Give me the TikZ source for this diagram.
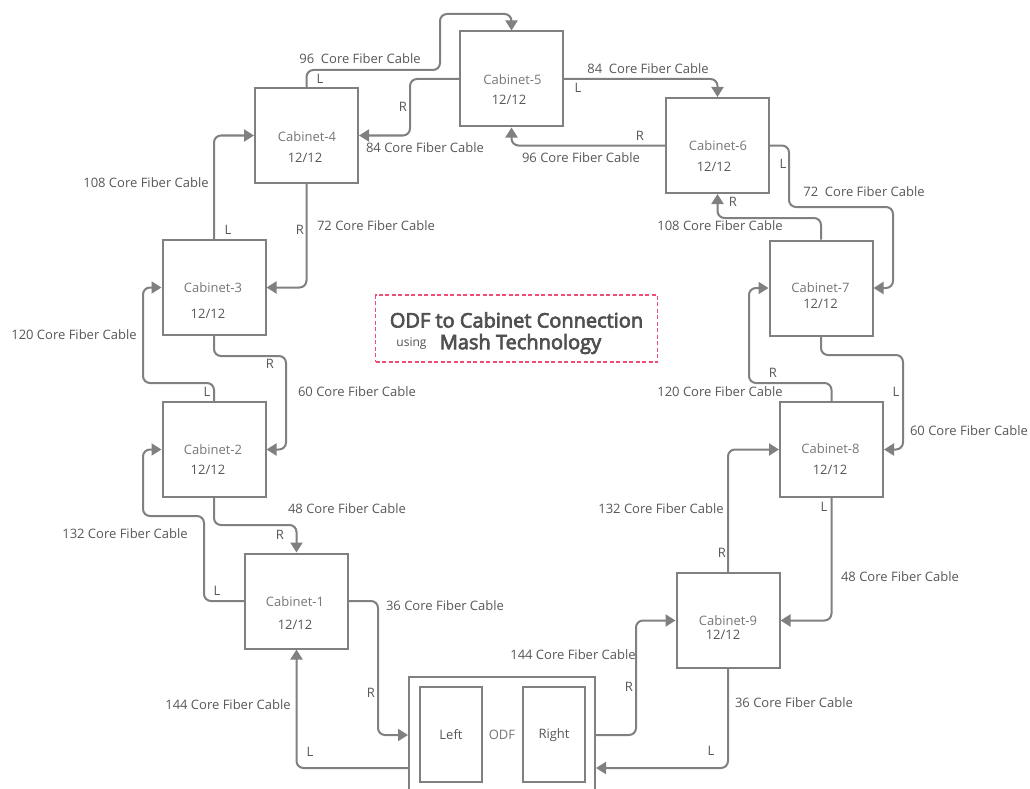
\documentclass[tikz,border=0pt]{standalone}
\usepackage{fontspec}
\setmainfont{Open Sans}
\newfontfamily\headingfont{Open Sans}[FakeBold=3.5]
\usetikzlibrary{arrows.meta}
\definecolor{wire}{HTML}{808080}
\definecolor{labelgray}{HTML}{585858}
\definecolor{namegray}{HTML}{777777}
\definecolor{titlepink}{HTML}{EE4D74}
\definecolor{titlegray}{HTML}{505050}

\begin{document}
\begin{tikzpicture}[x=1pt,y=-1pt,
  cabinet/.style={draw=wire, line width=2pt, minimum width=103pt, minimum height=95pt, inner sep=0pt},
  cable/.style={draw=wire, line width=2pt, rounded corners=7pt, -{Triangle[length=10pt,width=12pt]}},
  txt/.style={text=labelgray, font=\fontsize{13}{15}\selectfont, inner sep=0pt},
  cabname/.style={txt, text=namegray},
  cabfill/.style={txt},
  heading/.style={text=titlegray, font=\headingfont\fontsize{20}{22}\selectfont, inner sep=0pt}]

\useasboundingbox (0,0) rectangle (1030,789);
\clip (0,0) rectangle (1030,789);
\fill[white] (0,0) rectangle (1030,789);

% ---------- cabinets ----------
\node[cabinet] (c1) at (296.5,601) {};
\node[cabinet] (c2) at (214,449.5) {};
\node[cabinet] (c3) at (214,287.5) {};
\node[cabinet] (c4) at (306.5,135.5) {};
\node[cabinet] (c5) at (511.5,79) {};
\node[cabinet] (c6) at (717.5,145.5) {};
\node[cabinet] (c7) at (821,288) {};
\node[cabinet] (c8) at (831.5,449.5) {};
\node[cabinet] (c9) at (728,620.5) {};

\node[cabname] (c1name) at (295,602) {Cabinet-1};
\node[cabfill] (c1fill) at (295,625) {12/12};
\node[cabname] (c2name) at (213,450) {Cabinet-2};
\node[cabfill] (c2fill) at (208,470) {12/12};
\node[cabname] (c3name) at (213,288) {Cabinet-3};
\node[cabfill] (c3fill) at (208,314) {12/12};
\node[cabname] (c4name) at (307,136.5) {Cabinet-4};
\node[cabfill] (c4fill) at (305,158) {12/12};
\node[cabname] (c5name) at (512.5,80) {Cabinet-5};
\node[cabfill] (c5fill) at (509,100) {12/12};
\node[cabname] (c6name) at (718,146) {Cabinet-6};
\node[cabfill] (c6fill) at (714,167) {12/12};
\node[cabname] (c7name) at (820.5,288) {Cabinet-7};
\node[cabfill] (c7fill) at (820.5,304) {12/12};
\node[cabname] (c8name) at (830.5,449) {Cabinet-8};
\node[cabfill] (c8fill) at (830,470) {12/12};
\node[cabname] (c9name) at (728,621) {Cabinet-9};
\node[cabfill] (c9fill) at (723,635) {12/12};

% ---------- ODF ----------
\node[draw=wire, line width=2pt, minimum width=186pt, minimum height=116pt, inner sep=0pt] (odf) at (502,735) {};
\node[draw=wire, line width=2pt, minimum width=62pt, minimum height=95pt, inner sep=0pt] (odfleft) at (451,734.5) {};
\node[draw=wire, line width=2pt, minimum width=62pt, minimum height=95pt, inner sep=0pt] (odfright) at (554,734.5) {};
\node[txt] (odfleftname) at (451,735) {Left};
\node[txt, text=namegray] (odfname) at (502,735) {ODF};
\node[txt] (odfrightname) at (554,735) {Right};
\coordinate (odfRlow) at ([yshift=-33pt]odf.east);
\coordinate (odfLlow) at ([yshift=-33pt]odf.west);

% ---------- title ----------
\node[draw=titlepink, line width=1.3pt, dash pattern=on 4pt off 2.5pt, minimum width=282pt, minimum height=67pt, inner sep=0pt] (titlebox) at (516.5,328.5) {};
\node[heading] (title1) at (516.5,320) {ODF to Cabinet Connection};
\node[text=titlegray, font=\fontsize{12}{14}\selectfont, inner sep=0pt] (title2a) at (411.5,344) {using};
\node[heading] (title2b) at (520.5,344) {Mash Technology};

% ---------- cables ----------
% Cabinet-4 <-> Cabinet-5
\draw[cable] (c4.north) |- (440,70) -- (440,14) -| (c5.north);
\draw[cable] (c5.west) -| (410,110) |- (c4.east);
% Cabinet-5 <-> Cabinet-6
\draw[cable] (c5.east) -| (c6.north);
\draw[cable] (c6.west) -| (c5.south);
% Cabinet-6 <-> Cabinet-7
\draw[cable] (c6.east) -| (789,180) |- (893,207) |- (c7.east);
\draw[cable] (c7.north) |- (770,218) -| (c6.south);
% Cabinet-7 <-> Cabinet-8
\draw[cable] (c7.south) |- (903,355) |- (c8.east);
\draw[cable] (c8.north) |- (749,383) |- (c7.west);
% Cabinet-8 <-> Cabinet-9
\draw[cable] (c8.south) |- (c9.east);
\draw[cable] (c9.north) |- (c8.west);
% Cabinet-9 <-> ODF
\draw[cable] (odf.east) -| (636,680) |- (c9.west);
\draw[cable] (c9.south) |- (odfRlow);
% Cabinet-1 <-> ODF
\draw[cable] (c1.east) -| (378,680) |- (odf.west);
\draw[cable] (odfLlow) -| (c1.south);
% Cabinet-1 <-> Cabinet-2
\draw[cable] (c1.west) -| (204,560) |- (143,516) |- (c2.west);
\draw[cable] (c2.south) |- (250,525) -| (c1.north);
% Cabinet-2 <-> Cabinet-3
\draw[cable] (c3.south) |- (286,356) |- (c2.east);
\draw[cable] (c2.north) |- (143,383) |- (c3.west);
% Cabinet-3 <-> Cabinet-4
\draw[cable] (c3.north) |- (c4.west);
\draw[cable] (c4.south) |- (c3.east);

% ---------- cable labels ----------
\node[txt] (t1) at (360,59) {96\ \ Core Fiber Cable};
\node[txt] (t1s) at (320,79) {L};
\node[txt] (t2s) at (403,107) {R};
\node[txt] (t2) at (425,148) {84 Core Fiber Cable};
\node[txt] (t3) at (648,69) {84\ \ Core Fiber Cable};
\node[txt] (t3s) at (578,88) {L};
\node[txt] (t4s) at (640,136) {R};
\node[txt] (t4) at (581,158) {96 Core Fiber Cable};
\node[txt] (t5s) at (783,164) {L};
\node[txt] (t5) at (864,192) {72\ \ Core Fiber Cable};
\node[txt] (t6s) at (733,202) {R};
\node[txt] (t6) at (720,226) {108 Core Fiber Cable};
\node[txt] (t7s) at (896,392) {L};
\node[txt] (t7) at (969,431) {60 Core Fiber Cable};
\node[txt] (t8s) at (773,373) {R};
\node[txt] (t8) at (720,392) {120 Core Fiber Cable};
\node[txt] (t9s) at (824,507) {L};
\node[txt] (t9) at (900,577) {48 Core Fiber Cable};
\node[txt] (t10s) at (722,553) {R};
\node[txt] (t10) at (661,509) {132 Core Fiber Cable};
\node[txt] (t11) at (573,655) {144 Core Fiber Cable};
\node[txt] (t11s) at (629,687) {R};
\node[txt] (t12) at (794,703) {36 Core Fiber Cable};
\node[txt] (t12s) at (711,751) {L};
\node[txt] (t13) at (445,606) {36 Core Fiber Cable};
\node[txt] (t13s) at (371,693) {R};
\node[txt] (t14) at (228,705) {144 Core Fiber Cable};
\node[txt] (t14s) at (310,752) {L};
\node[txt] (t15) at (125,534) {132 Core Fiber Cable};
\node[txt] (t15s) at (217,591) {L};
\node[txt] (t16) at (347,509) {48 Core Fiber Cable};
\node[txt] (t16s) at (280,535) {R};
\node[txt] (t17) at (357,392) {60 Core Fiber Cable};
\node[txt] (t17s) at (270,364) {R};
\node[txt] (t18) at (74,335) {120 Core Fiber Cable};
\node[txt] (t18s) at (207,392) {L};
\node[txt] (t19) at (146,183) {108 Core Fiber Cable};
\node[txt] (t19s) at (228,230) {L};
\node[txt] (t20) at (376,226) {72 Core Fiber Cable};
\node[txt] (t20s) at (300,230) {R};

\end{tikzpicture}
\end{document}
